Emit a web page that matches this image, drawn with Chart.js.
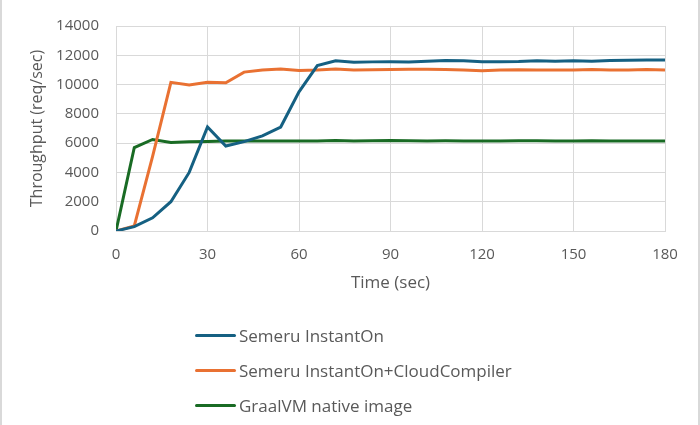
<!DOCTYPE html>
<html>
<head>
<meta charset="utf-8">
<script src="https://cdn.jsdelivr.net/npm/chart.js@4.4.1/dist/chart.umd.min.js"></script>
<style>
  body { margin: 0; background: #fff; }
  #wrap { position: relative; width: 700px; height: 425px; overflow: hidden;
          border-left: 2px solid #d9d9d9; border-right: 2px solid #d9d9d9; box-sizing: border-box; }
  #chart { position: absolute; left: -2px; top: 0; }
  #legend { position: absolute; left: 193px; top: 318px; font-family: "Open Sans", sans-serif;
            font-size: 17px; color: #595959; }
  .row { display: flex; align-items: center; height: 35px; }
  .swatch { width: 41px; height: 3px; border-radius: 2px; margin-right: 3px; }
</style>
</head>
<body>
<div id="wrap">
  <canvas id="chart" width="700" height="425"></canvas>
  <div id="legend"></div>
</div>
<script>
const times = [0, 6, 12, 18, 24, 30, 36, 42, 48, 54, 60, 66, 72, 78, 84, 90, 96, 102, 108, 114, 120, 126, 132, 138, 144, 150, 156, 162, 168, 174, 180];

const seriesNames = ['Semeru InstantOn', 'Semeru InstantOn+CloudCompiler', 'GraalVM native image'];

const instantOn = [0, 300, 900, 2000, 4000, 7100, 5800, 6100, 6500, 7100, 9500, 11300, 11620, 11520, 11550, 11560, 11550, 11600, 11650, 11620, 11560, 11560, 11570, 11620, 11600, 11620, 11600, 11650, 11660, 11680, 11680];
const cloudCompiler = [0, 350, 5100, 10150, 9980, 10150, 10120, 10850, 11000, 11070, 10960, 11000, 11070, 11000, 11020, 11030, 11050, 11050, 11030, 11000, 10940, 11000, 11020, 11000, 10990, 11000, 11030, 11000, 11000, 11030, 11000];
const graalNative = [0, 5700, 6250, 6050, 6100, 6120, 6150, 6150, 6150, 6150, 6150, 6150, 6180, 6150, 6160, 6180, 6170, 6150, 6160, 6150, 6150, 6150, 6160, 6170, 6150, 6150, 6170, 6150, 6150, 6150, 6150];

const colors = ['#156082', '#E97132', '#196B24'];

const gridColor = '#d9d9d9';
const textColor = '#595959';
const fontFamily = '"Open Sans", sans-serif';

function toPoints(values) {
    return values.map((v, i) => ({ x: times[i], y: v }));
}

const datasets = [instantOn, cloudCompiler, graalNative].map((values, i) => ({
    label: seriesNames[i],
    data: toPoints(values),
    borderColor: colors[i],
    backgroundColor: colors[i],
    borderWidth: 3,
    pointRadius: 0,
    tension: 0,
    fill: false
}));

const chart = new Chart(document.getElementById('chart'), {
    type: 'line',
    data: { datasets },
    options: {
        responsive: false,
        animation: false,
        layout: { padding: { top: 18, right: 35, bottom: 114, left: 0 } },
        plugins: {
            legend: { display: false },
            tooltip: { enabled: false }
        },
        scales: {
            x: {
                type: 'linear',
                min: 0,
                max: 180,
                ticks: { stepSize: 30, padding: 15, color: textColor, font: { family: fontFamily, size: 15 } },
                grid: { color: gridColor, drawTicks: false },
                border: { color: gridColor },
                title: { display: true, text: 'Time (sec)', color: textColor,
                         font: { family: fontFamily, size: 17 }, padding: { top: 0, bottom: 18 } },
                afterFit(scale) { scale.height = 80; }
            },
            y: {
                min: 0,
                max: 14000,
                ticks: { stepSize: 2000, padding: 17, color: textColor, font: { family: fontFamily, size: 15 },
                         callback: v => String(v) },
                grid: { color: gridColor, drawTicks: false },
                border: { color: gridColor },
                title: { display: true, text: 'Throughput (req/sec)', color: textColor,
                         font: { family: fontFamily, size: 16 }, padding: { top: 28, bottom: 0 } },
                afterFit(scale) { scale.width = 116; }
            }
        }
    }
});

// legend below the plot, one series per row
const legend = document.getElementById('legend');
chart.data.datasets.forEach(ds => {
    const row = document.createElement('div');
    row.className = 'row';
    row.innerHTML = `<span class="swatch" style="background:${ds.borderColor}"></span><span>${ds.label}</span>`;
    legend.appendChild(row);
});
</script>
</body>
</html>
